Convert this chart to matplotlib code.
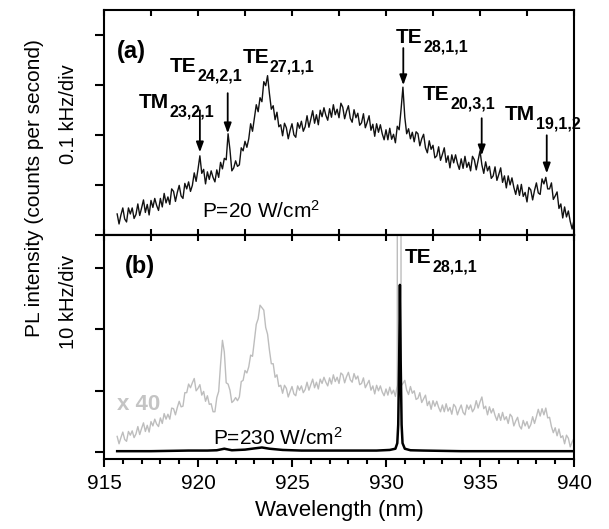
import numpy as np
import matplotlib
matplotlib.use("Agg")
import matplotlib.pyplot as plt
from matplotlib.ticker import MultipleLocator

plt.rcParams['font.family'] = ['Liberation Sans', 'DejaVu Sans']
plt.rcParams['mathtext.fontset'] = 'custom'
plt.rcParams['mathtext.rm'] = 'Liberation Sans'
plt.rcParams['mathtext.bf'] = 'Liberation Sans:bold'
plt.rcParams['mathtext.it'] = 'Liberation Sans:italic'

# ---------------- data ----------------
# common wavelength grid (nm) for the measured spectra
wavelength = np.round(np.arange(915.7, 940.0001, 0.1), 2)

# (a) low power spectrum, in units of 0.1 kHz/div
spec_a = [
    0.42, 0.22, 0.40, 0.54, 0.32, 0.26, 0.54, 0.42, 0.54, 0.33,
    0.41, 0.62, 0.39, 0.54, 0.70, 0.45, 0.61, 0.40, 0.69, 0.55,
    0.73, 0.59, 0.49, 0.73, 0.56, 0.83, 0.64, 0.76, 0.61, 0.92,
    0.87, 0.67, 0.85, 0.99, 0.78, 0.73, 1.03, 0.92, 1.06, 0.87,
    0.99, 1.24, 1.07, 1.31, 1.58, 1.23, 1.31, 1.02, 1.26, 1.11,
    1.28, 1.15, 1.06, 1.30, 1.15, 1.45, 1.32, 1.53, 1.50, 2.02,
    1.70, 1.28, 1.34, 1.48, 1.37, 1.40, 1.74, 1.68, 1.87, 1.75,
    1.92, 2.22, 2.07, 2.33, 2.60, 2.46, 2.74, 2.66, 3.06, 2.98,
    3.18, 2.82, 2.51, 2.58, 2.30, 2.45, 2.16, 2.20, 1.98, 2.23,
    2.14, 1.92, 2.09, 2.22, 2.00, 1.95, 2.24, 2.13, 2.27, 2.07,
    2.16, 2.38, 2.15, 2.31, 2.48, 2.23, 2.40, 2.20, 2.49, 2.36,
    2.54, 2.39, 2.29, 2.52, 2.35, 2.60, 2.40, 2.51, 2.34, 2.63,
    2.55, 2.32, 2.47, 2.58, 2.33, 2.25, 2.50, 2.34, 2.43, 2.19,
    2.24, 2.42, 2.14, 2.25, 2.38, 2.09, 2.21, 1.97, 2.22, 2.05,
    2.20, 2.02, 1.90, 2.10, 1.90, 2.13, 1.91, 2.01, 1.84, 2.17,
    2.10, 2.50, 2.95, 2.35, 2.02, 2.12, 1.92, 2.05, 1.86, 2.06,
    2.02, 1.78, 1.92, 2.01, 1.74, 1.64, 1.88, 1.71, 1.79, 1.54,
    1.58, 1.76, 1.49, 1.61, 1.74, 1.45, 1.58, 1.34, 1.60, 1.44,
    1.60, 1.43, 1.31, 1.52, 1.33, 1.57, 1.35, 1.45, 1.28, 1.57,
    1.50, 1.30, 1.49, 1.68, 1.40, 1.23, 1.46, 1.28, 1.37, 1.13,
    1.18, 1.36, 1.09, 1.21, 1.34, 1.05, 1.18, 0.94, 1.18, 1.00,
    1.14, 0.95, 0.81, 1.00, 0.79, 1.01, 0.77, 0.85, 0.66, 0.95,
    0.90, 0.70, 0.89, 1.04, 0.84, 0.81, 1.12, 1.02, 1.15, 0.92,
    0.92, 1.04, 0.71, 0.78, 0.86, 0.53, 0.62, 0.34, 0.56, 0.36,
    0.48, 0.27, 0.12, 0.30,
]

# (b) high power spectrum magnified x40, in units of 10 kHz/div
spec_b_x40 = [
    0.26, 0.14, 0.24, 0.33, 0.21, 0.18, 0.34, 0.28, 0.35, 0.24,
    0.30, 0.42, 0.29, 0.39, 0.48, 0.34, 0.44, 0.33, 0.50, 0.43,
    0.54, 0.46, 0.42, 0.56, 0.47, 0.63, 0.54, 0.62, 0.54, 0.72,
    0.71, 0.61, 0.73, 0.83, 0.74, 0.75, 0.97, 0.97, 1.11, 1.05,
    1.13, 1.20, 1.00, 1.04, 1.10, 0.93, 0.99, 0.83, 0.92, 0.78,
    0.79, 0.66, 0.66, 0.89, 0.99, 1.43, 1.82, 1.63, 1.13, 1.11,
    1.01, 0.81, 0.84, 0.89, 0.84, 0.90, 1.15, 1.17, 1.33, 1.29,
    1.39, 1.58, 1.56, 1.82, 2.08, 2.17, 2.39, 2.35, 2.31, 2.03,
    1.92, 1.66, 1.44, 1.44, 1.22, 1.26, 1.07, 1.09, 0.96, 1.09,
    1.04, 0.90, 0.99, 1.07, 0.95, 0.92, 1.08, 1.01, 1.08, 0.97,
    1.02, 1.14, 1.01, 1.10, 1.19, 1.05, 1.14, 1.03, 1.19, 1.12,
    1.22, 1.14, 1.08, 1.21, 1.11, 1.26, 1.15, 1.22, 1.12, 1.29,
    1.26, 1.13, 1.23, 1.30, 1.18, 1.14, 1.28, 1.19, 1.24, 1.10,
    1.12, 1.21, 1.05, 1.11, 1.17, 1.01, 1.08, 0.95, 1.09, 1.00,
    1.08, 0.98, 0.92, 1.03, 0.93, 1.06, 0.95, 1.01, 0.91, 1.09,
    200.0, 1.08, 1.12, 1.17, 1.01, 0.94, 1.07, 0.96, 1.00, 0.86,
    0.88, 0.97, 0.81, 0.87, 0.93, 0.76, 0.83, 0.70, 0.84, 0.75,
    0.83, 0.73, 0.66, 0.77, 0.66, 0.79, 0.67, 0.73, 0.62, 0.78,
    0.74, 0.61, 0.70, 0.77, 0.65, 0.61, 0.77, 0.70, 0.77, 0.66,
    0.71, 0.84, 0.72, 0.82, 0.90, 0.71, 0.75, 0.61, 0.74, 0.64,
    0.71, 0.60, 0.52, 0.63, 0.52, 0.65, 0.53, 0.58, 0.47, 0.62,
    0.58, 0.43, 0.51, 0.57, 0.43, 0.38, 0.52, 0.43, 0.50, 0.39,
    0.45, 0.58, 0.47, 0.58, 0.70, 0.59, 0.71, 0.61, 0.72, 0.56,
    0.57, 0.42, 0.32, 0.40, 0.27, 0.38, 0.24, 0.27, 0.14, 0.28,
    0.23, 0.09, 0.17, 0.23,
]

# (b) high power spectrum, unscaled (10 kHz/div)
black_wl = [915.7, 916.5, 917.5, 918.5, 919.5, 920.5, 921.0, 921.4, 921.8,
            922.5, 923.0, 923.4, 923.8, 924.5, 925.5, 926.5, 927.5, 928.5,
            929.5, 930.2, 930.5, 930.6, 930.65, 930.7, 930.74, 930.78,
            930.83, 930.88, 931.0, 931.3, 932.0, 933.0, 934.0, 935.0,
            936.0, 937.0, 938.0, 939.0, 940.0]
black_b = [0.02, 0.02, 0.02, 0.025, 0.03, 0.03, 0.035, 0.06, 0.035,
           0.045, 0.065, 0.08, 0.06, 0.04, 0.03, 0.03, 0.03, 0.03,
           0.03, 0.04, 0.06, 0.15, 0.45, 1.5, 2.72, 1.5,
           0.45, 0.15, 0.06, 0.035, 0.03, 0.025, 0.02, 0.02,
           0.02, 0.02, 0.02, 0.02, 0.02]

# mode annotations in panel (a)
mode_names = ['TM', 'TE', 'TE', 'TE', 'TE', 'TM']
mode_subs = ['23,2,1', '24,2,1', '27,1,1', '28,1,1', '20,3,1', '19,1,2']
mode_text_x = [916.86, 918.51, 922.39, 930.53, 931.97, 936.33]
mode_text_y = [2.53, 3.25, 3.43, 3.83, 2.69, 2.29]
arrow_x = [920.1, 921.58, None, 930.92, 935.09, 938.55]
arrow_y0 = [2.49, 2.83, None, 3.73, 2.33, 1.99]
arrow_y1 = [1.65, 2.03, None, 2.99, 1.59, 1.23]

xticks_major = [915, 920, 925, 930, 935, 940]

# ---------------- figure ----------------
fig = plt.figure(figsize=(6.09, 5.29), dpi=100)
L, R = 104 / 609, 574 / 609
axa = fig.add_axes([L, 1 - 235 / 529, R - L, 225 / 529])
axb = fig.add_axes([L, 1 - 459 / 529, R - L, 224 / 529])

lw_sp = 1.5
for ax in (axa, axb):
    for s in ax.spines.values():
        s.set_linewidth(lw_sp)
    ax.set_xlim(915, 940)


def mode_label(ax, x, y, name, sub):
    t = ax.text(x, y, name, fontsize=15, fontweight='bold', va='baseline')
    ax.annotate(sub, xy=(1, 0), xycoords=t, xytext=(0.3, -3.2),
                textcoords='offset points', fontsize=11.5, fontweight='bold',
                va='baseline', ha='left')


# panel (a)
axa.plot(wavelength, spec_a, color='#111111', lw=1.0)
axa.set_ylim(0, 4.49)
axa.set_yticks([0, 1, 2, 3, 4])
axa.xaxis.set_major_locator(MultipleLocator(2.5))
axa.tick_params(axis='x', which='both', direction='in', top=True, bottom=True,
                labelbottom=False, length=4.5, width=lw_sp)
axa.tick_params(axis='y', direction='out', left=True, right=False,
                labelleft=False, length=6.5, width=lw_sp)

axa.text(915.67, 3.53, '(a)', fontsize=17, fontweight='bold')
for name, sub, tx, ty, ax_, y0, y1 in zip(mode_names, mode_subs, mode_text_x,
                                         mode_text_y, arrow_x, arrow_y0, arrow_y1):
    mode_label(axa, tx, ty, name, sub)
    if ax_ is not None:
        axa.annotate('', xy=(ax_, y1), xytext=(ax_, y0),
                     arrowprops=dict(arrowstyle='-|>,head_length=0.6,head_width=0.22',
                                     color='black', lw=1.3, shrinkA=0, shrinkB=0))
axa.text(920.2, 0.35, r'P=20 W/cm$^{2}$', fontsize=15, va='baseline')

# panel (b)
axb.plot(wavelength, spec_b_x40, color='#bdbdbd', lw=1.0)
axb.plot(black_wl, black_b, color='black', lw=1.8)
axb.set_ylim(-0.107, 3.53)
axb.set_yticks([0, 1, 2, 3])
axb.set_xticks(xticks_major)
axb.xaxis.set_minor_locator(MultipleLocator(1))
axb.tick_params(axis='x', which='major', direction='out', top=False, bottom=True,
                length=6, width=lw_sp, labelsize=15, pad=5)
axb.tick_params(axis='x', which='minor', direction='out', top=False, bottom=True,
                length=3.5, width=lw_sp)
axb.tick_params(axis='y', direction='out', left=True, right=False,
                labelleft=False, length=6.5, width=lw_sp)
sec = axb.secondary_xaxis('top')
sec.xaxis.set_major_locator(MultipleLocator(2.5))
sec.tick_params(axis='x', direction='in', length=4.5, width=lw_sp, labeltop=False)
sec.spines['top'].set_linewidth(lw_sp)

axb.text(916.12, 2.92, '(b)', fontsize=17, fontweight='bold')
mode_label(axb, 931.01, 3.08, 'TE', '28,1,1')
axb.text(920.8, 0.125, r'P=230 W/cm$^{2}$', fontsize=15, va='baseline')
axb.text(915.69, 0.69, 'x 40', fontsize=16, fontweight='bold', color='#c4c4c4',
         va='baseline')

axb.set_xlabel('Wavelength (nm)', fontsize=16, labelpad=5)

fig.text(35 / 609, 1 - 188 / 529, 'PL intensity (counts per second)', rotation=90,
         fontsize=15, ha='center', va='center')
fig.text(68 / 609, 1 - 114 / 529, '0.1 kHz/div', rotation=90, fontsize=14.5,
         ha='center', va='center')
fig.text(68 / 609, 1 - 302 / 529, '10 kHz/div', rotation=90, fontsize=14.5,
         ha='center', va='center')

fig.savefig('out.png', dpi=100)
